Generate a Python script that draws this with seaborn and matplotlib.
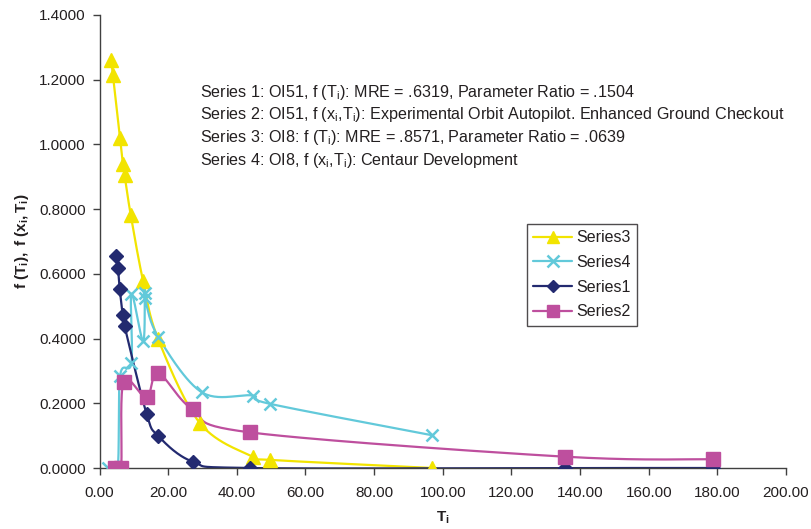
import numpy as np
import matplotlib
matplotlib.use("Agg")
import matplotlib.pyplot as plt
from matplotlib.lines import Line2D
from matplotlib.ticker import FormatStrFormatter
import seaborn as sns

# ---- data ----
s3_x = [3.4, 3.9, 6.0, 6.8, 7.3, 9.1, 12.7, 17.1, 29.3, 44.6, 49.8, 97.0]
s3_y = [1.262, 1.214, 1.019, 0.940, 0.905, 0.782, 0.578, 0.398, 0.138, 0.035, 0.025, 0.0]

s4_x = [2.5, 5.3, 6.0, 9.3, 9.3, 12.7, 13.2, 13.2, 17.1, 29.8, 44.6, 49.8, 97.0]
s4_y = [0.0, 0.0, 0.285, 0.325, 0.538, 0.392, 0.542, 0.525, 0.405, 0.234, 0.224, 0.198, 0.101]

s1_x = [4.9, 5.4, 5.9, 6.8, 7.3, 13.7, 17.1, 27.3, 43.9, 135.5, 178.8]
s1_y = [0.655, 0.617, 0.552, 0.473, 0.439, 0.168, 0.099, 0.019, 0.0, 0.0, 0.0]

s2_x = [4.5, 6.3, 7.0, 13.7, 17.1, 27.1, 43.9, 135.5, 178.8]
s2_y = [0.0, 0.0, 0.267, 0.218, 0.293, 0.181, 0.110, 0.035, 0.027]

x_ticks = [0, 20, 40, 60, 80, 100, 120, 140, 160, 180, 200]
y_ticks = [0.0, 0.2, 0.4, 0.6, 0.8, 1.0, 1.2, 1.4]

notes = [
    r"Series 1: OI51, f (T$_\mathrm{i}$): MRE = .6319, Parameter Ratio = .1504",
    r"Series 2: OI51, f (x$_\mathrm{i}$,T$_\mathrm{i}$): Experimental Orbit Autopilot. Enhanced Ground Checkout",
    r"Series 3: OI8: f (T$_\mathrm{i}$): MRE = .8571, Parameter Ratio = .0639",
    r"Series 4: OI8, f (x$_\mathrm{i}$,T$_\mathrm{i}$): Centaur Development",
]

series = [
    ("Series3", s3_x, s3_y, "#F2E400", "^", 10, 1.0),
    ("Series4", s4_x, s4_y, "#62C9DA", "x", 9, 1.8),
    ("Series1", s1_x, s1_y, "#232A70", "D", 7, 1.0),
    ("Series2", s2_x, s2_y, "#BE4F9E", "s", 9.5, 1.0),
]

sns.set_style("ticks")
plt.rcParams["font.family"] = ["Liberation Sans", "DejaVu Sans"]
plt.rcParams["mathtext.fontset"] = "custom"
plt.rcParams["mathtext.rm"] = "Liberation Sans"
plt.rcParams["mathtext.it"] = "Liberation Sans"
plt.rcParams["mathtext.bf"] = "Liberation Sans:bold"

fig = plt.figure(figsize=(8.11, 5.29), dpi=100)
ax = fig.add_axes([99.5 / 811, (529 - 468) / 529, 686.5 / 811, 453 / 529])

XMAX, YMAX = 200.0, 1.4
SX, SY = 686.5 / XMAX, 453 / YMAX


def smooth(xs, ys, n=30):
    """Excel-like Bezier smoothing in display-proportional space."""
    P = np.column_stack([np.asarray(xs) * SX, np.asarray(ys) * SY])
    m = len(P)
    out = [P[0]]
    for i in range(m - 1):
        p0 = P[i - 1] if i > 0 else P[i]
        p1, p2 = P[i], P[i + 1]
        p3 = P[i + 2] if i + 2 < m else P[i + 1]
        c1 = p1 + (p2 - p0) / 6.0
        c2 = p2 - (p3 - p1) / 6.0
        t = np.linspace(0, 1, n)[1:, None]
        seg = ((1 - t) ** 3) * p1 + 3 * ((1 - t) ** 2) * t * c1 + 3 * (1 - t) * t ** 2 * c2 + t ** 3 * p2
        out.extend(seg)
    out = np.array(out)
    return out[:, 0] / SX, out[:, 1] / SY


handles = []
for name, xs, ys, col, mk, ms, mew in series:
    cx, cy = smooth(xs, ys)
    sns.lineplot(x=cx, y=cy, sort=False, estimator=None, color=col, lw=1.6, ax=ax, legend=False)
    ax.plot(xs, ys, linestyle="none", marker=mk, markersize=ms, color=col,
            markeredgecolor=col, markeredgewidth=mew, zorder=3)
    handles.append(Line2D([0], [0], color=col, lw=1.6, marker=mk, markersize=ms * 0.9,
                          markeredgecolor=col, markeredgewidth=mew, label=name))

ax.set_xlim(0, XMAX)
ax.set_ylim(0, YMAX)
ax.set_xticks(x_ticks)
ax.set_yticks(y_ticks)
ax.xaxis.set_major_formatter(FormatStrFormatter("%.2f"))
ax.yaxis.set_major_formatter(FormatStrFormatter("%.4f"))
ax.tick_params(axis="both", direction="out", length=5, width=1, color="#404040",
               labelsize=11, labelcolor="#231F20")
ax.tick_params(axis="x", pad=8)
ax.tick_params(axis="y", pad=5)
for s in ["top", "right"]:
    ax.spines[s].set_visible(False)
for s in ["left", "bottom"]:
    ax.spines[s].set_color("#404040")
    ax.spines[s].set_linewidth(1.0)
ax.grid(False)

ax.set_xlabel(r"$\mathbf{T_i}$", fontsize=11, color="#231F20", labelpad=7)
ax.set_ylabel(r"$\mathbf{f\ (T_i),\ f\ (x_i,T_i)}$", fontsize=11, color="#231F20", labelpad=6)

note_y = [92.5, 115, 137.5, 160]
for txt, py in zip(notes, note_y):
    ax.text((200 - 99.5) / 686.5, (468 - py) / 453, txt, transform=ax.transAxes,
            fontsize=11.6, color="#231F20", va="center", ha="left")

leg = ax.legend(handles=handles, loc="upper left", bbox_to_anchor=((527 - 99.5) / 686.5, (468 - 224) / 453),
                borderaxespad=0, frameon=True, fancybox=False, edgecolor="#231F20",
                fontsize=11.5, handlelength=2.4, labelspacing=0.6, borderpad=0.4,
                handletextpad=0.3)
leg.get_frame().set_linewidth(1.0)
for t in leg.get_texts():
    t.set_color("#231F20")

fig.savefig("out.png", dpi=100, facecolor="white")
